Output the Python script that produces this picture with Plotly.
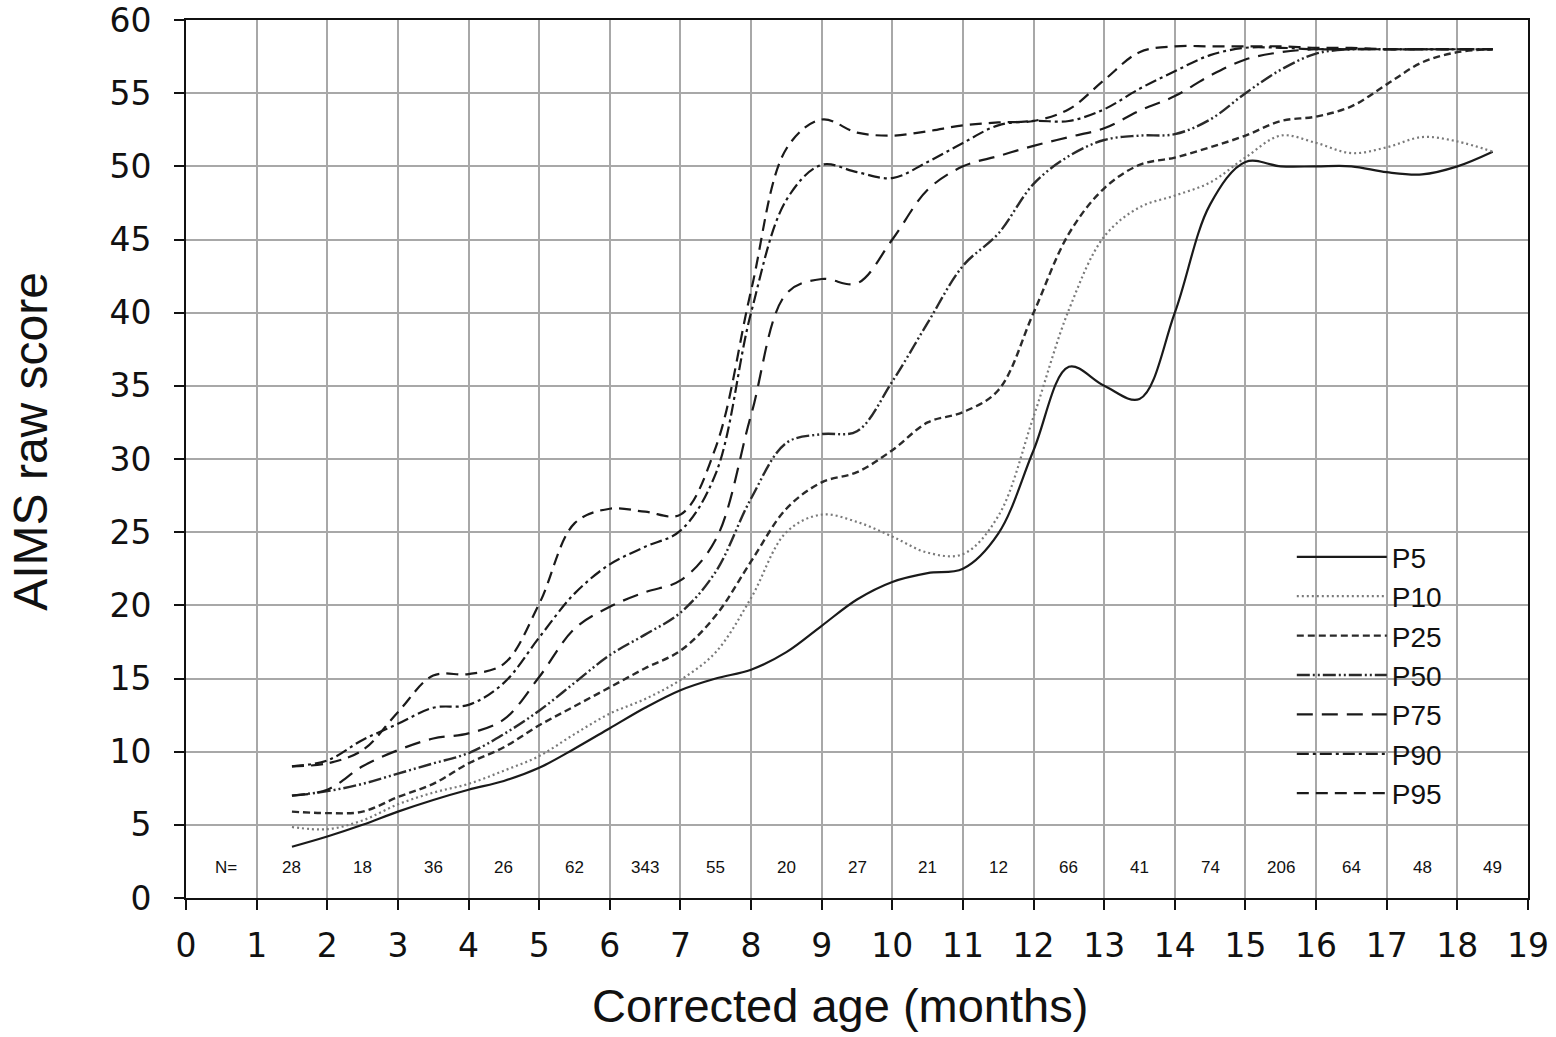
import plotly.graph_objects as go

# Corrected age (months) at which the percentile curves are read
age = [1.5, 2, 2.5, 3, 3.5, 4, 4.5, 5, 5.5, 6, 6.5, 7, 7.5, 8, 8.5, 9, 9.5, 10,
       10.5, 11, 11.5, 12, 12.5, 13, 13.5, 14, 14.5, 15, 15.5, 16, 16.5, 17, 17.5, 18, 18.5]

p5 = [3.5, 4.2, 5.0, 5.9, 6.7, 7.4, 8.0, 8.9, 10.2, 11.6, 13.0, 14.2, 15.0, 15.6, 16.8, 18.6, 20.4, 21.6,
      22.2, 22.5, 24.9, 30.6, 36.3, 35.0, 34.1, 40.0, 47.4, 50.3, 50.0, 50.0, 50.0, 49.6, 49.45, 50.0, 51.0]
p10 = [4.85, 4.7, 5.3, 6.4, 7.2, 7.8, 8.7, 9.7, 11.2, 12.6, 13.6, 14.9, 16.8, 20.5, 25.0, 26.2, 25.7, 24.7,
       23.6, 23.5, 26.1, 32.9, 40.2, 45.2, 47.2, 48.0, 48.9, 50.6, 52.1, 51.6, 50.9, 51.3, 52.0, 51.7, 51.0]
p25 = [5.9, 5.8, 5.9, 6.9, 7.8, 9.2, 10.3, 11.8, 13.1, 14.4, 15.7, 16.9, 19.3, 23.0, 26.6, 28.4, 29.1, 30.6,
       32.5, 33.2, 34.7, 40.0, 45.4, 48.5, 50.1, 50.6, 51.3, 52.1, 53.1, 53.4, 54.1, 55.6, 57.1, 57.8, 58.0]
p50 = [7.0, 7.3, 7.8, 8.5, 9.2, 9.9, 11.2, 12.8, 14.7, 16.6, 18.0, 19.5, 22.3, 27.3, 31.1, 31.7, 31.9, 35.3,
       39.3, 43.2, 45.4, 48.8, 50.7, 51.8, 52.1, 52.2, 53.2, 55.0, 56.6, 57.7, 58.0, 58.0, 58.0, 58.0, 58.0]
p75 = [7.0, 7.4, 9.0, 10.1, 10.9, 11.25, 12.2, 15.1, 18.4, 19.9, 20.9, 21.7, 24.5, 33.0, 41.3, 42.3, 42.0, 45.0,
       48.4, 50.0, 50.7, 51.4, 52.0, 52.6, 53.8, 54.8, 56.2, 57.3, 57.8, 58.0, 58.0, 58.0, 58.0, 58.0, 58.0]
p90 = [9.0, 9.4, 10.8, 11.9, 13.0, 13.2, 14.7, 17.8, 20.8, 22.8, 24.0, 25.1, 29.0, 40.0, 47.7, 50.1, 49.6, 49.2,
       50.3, 51.6, 52.8, 53.1, 53.1, 53.9, 55.3, 56.5, 57.6, 58.1, 58.1, 58.0, 58.0, 58.0, 58.0, 58.0, 58.0]
p95 = [9.0, 9.2, 10.1, 12.7, 15.2, 15.3, 16.0, 20.1, 25.6, 26.6, 26.4, 26.2, 30.8, 41.5, 51.2, 53.2, 52.3, 52.1,
       52.4, 52.8, 53.0, 53.1, 53.9, 55.9, 57.8, 58.2, 58.2, 58.2, 58.2, 58.1, 58.1, 58.0, 58.0, 58.0, 58.0]

series_names = ["P5", "P10", "P25", "P50", "P75", "P90", "P95"]
series_values = [p5, p10, p25, p50, p75, p90, p95]

# Sample sizes per month interval (1-2, 2-3, ..., 18-19)
n_label = "N="
n_values = ["28", "18", "36", "26", "62", "343", "55", "20", "27", "21",
            "12", "66", "41", "74", "206", "64", "48", "49"]

x_ticks = list(range(0, 20))
y_ticks = list(range(0, 61, 5))

styles = [
    dict(color="#1a1a1a", width=2.2, dash="solid"),
    dict(color="#7a7a7a", width=2.2, dash="2px,3px"),
    dict(color="#2a2a2a", width=2.4, dash="7px,4px"),
    dict(color="#2a2a2a", width=2.4, dash="13px,3px,2px,3px,2px,3px"),
    dict(color="#1a1a1a", width=2.2, dash="16px,9px"),
    dict(color="#1a1a1a", width=2.2, dash="12px,4px,3px,4px"),
    dict(color="#1a1a1a", width=2.2, dash="12px,7px"),
]

fig = go.Figure()
for name, vals, st in zip(series_names, series_values, styles):
    fig.add_trace(go.Scatter(
        x=age, y=vals, name=name, mode="lines",
        line=dict(shape="spline", smoothing=1.0, **st),
    ))

# White panel behind the legend (hides the grid there)
fig.add_shape(type="rect", xref="paper", yref="paper", x0=0.819, x1=0.9754, y0=0.0911, y1=0.4294,
              fillcolor="white", line=dict(width=0), layer="between")

# N= row
fig.add_annotation(x=0.57, y=2.1, xref="x", yref="y", text=n_label, showarrow=False,
                   font=dict(family="Liberation Sans, Arial", size=17, color="#111"))
for i, n in enumerate(n_values):
    fig.add_annotation(x=i + 1.5, y=2.1, xref="x", yref="y", text=n, showarrow=False,
                       font=dict(family="Liberation Sans, Arial", size=17, color="#111"))

# Axis titles
fig.add_annotation(x=0.487, y=-0.155, xref="paper", yref="paper", text="Corrected age (months)",
                   showarrow=False, xanchor="center", yanchor="bottom",
                   font=dict(family="Liberation Sans, Arial", size=47, color="#111"))
fig.add_annotation(x=-0.116, y=0.52, xref="paper", yref="paper", text="AIMS raw score",
                   showarrow=False, xanchor="center", yanchor="middle", textangle=-90,
                   font=dict(family="Liberation Sans, Arial", size=48, color="#111"))

axis_common = dict(
    showgrid=True, gridcolor="#a8a8a8", gridwidth=2,
    showline=True, linecolor="#111", linewidth=2, mirror=True,
    ticks="outside", ticklen=10, tickwidth=2, tickcolor="#111",
    zeroline=False, automargin=False, ticklabeloverflow="allow",
    tickfont=dict(family="DejaVu Sans, Liberation Sans", size=33, color="#111"),
)

fig.update_xaxes(range=[0, 19], tickvals=x_ticks, ticktext=[str(v) for v in x_ticks],
                 ticklabelstandoff=7, **axis_common)
fig.update_yaxes(range=[0, 60], tickvals=y_ticks, ticktext=[str(v) for v in y_ticks],
                 ticklabelstandoff=16, **axis_common)

fig.update_layout(
    width=1556, height=1037,
    margin=dict(l=186, r=28, t=20, b=139),
    plot_bgcolor="white", paper_bgcolor="white",
    showlegend=True,
    legend=dict(x=0.824, y=0.091, xanchor="left", yanchor="bottom",
                bgcolor="rgba(255,255,255,0)", borderwidth=0, itemwidth=90,
                font=dict(family="Liberation Sans, Arial", size=28, color="#111"),
                tracegroupgap=0),
)

fig.write_html("out.html", config={"displayModeBar": False},
               post_script="document.body.style.margin='0';document.body.style.overflow='hidden';")
